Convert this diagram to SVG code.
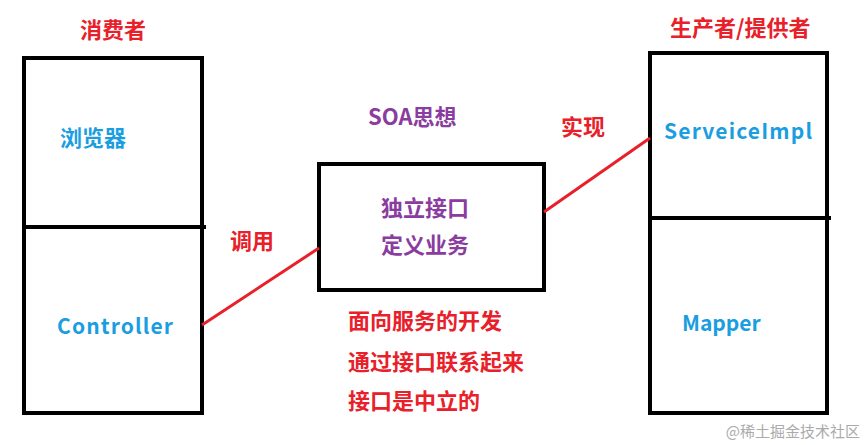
<svg xmlns="http://www.w3.org/2000/svg" width="866" height="445" viewBox="0 0 866 445">
<style>
.box{fill:none;stroke:#000;stroke-width:4}
.t{font-family:"Noto Sans CJK SC","Liberation Sans",sans-serif;font-weight:bold;font-size:22px}
.e{font-size:21px}
.red{fill:#e8202a}.blue{fill:#1a9ee0}.pur{fill:#8a3d9e}
.ln{stroke:#e8202a;stroke-width:3;fill:none}
</style>
<rect width="866" height="445" fill="#fff"/>
<text class="t red" x="80" y="38">消费者</text>
<text class="t red" x="670" y="36">生产者/提供者</text>
<g id="consumer">
<rect class="box" x="24" y="58" width="178" height="355"/>
<line x1="24" y1="227" x2="206" y2="227" stroke="#000" stroke-width="4"/>
<text class="t blue" x="60" y="146">浏览器</text>
<text class="t e blue" x="57" y="334" textLength="116">Controller</text>
</g>
<g id="soa">
<text class="t pur" x="368" y="125">SOA思想</text>
<rect class="box" x="319" y="164" width="225" height="126"/>
<text class="t pur" x="381" y="216">独立接口</text>
<text class="t pur" x="381" y="253">定义业务</text>
</g>
<g id="provider">
<rect class="box" x="650" y="53" width="177" height="360"/>
<line x1="650" y1="218" x2="831" y2="218" stroke="#000" stroke-width="4"/>
<text class="t e blue" x="664" y="139" textLength="148">ServeiceImpl</text>
<text class="t e blue" x="682" y="331">Mapper</text>
</g>
<g id="notes">
<text class="t red" x="348" y="329">面向服务的开发</text>
<text class="t red" x="348" y="370">通过接口联系起来</text>
<text class="t red" x="348" y="409">接口是中立的</text>
</g>
<g id="connectors">
<line class="ln" x1="202" y1="325" x2="319" y2="248"/>
<line class="ln" x1="544" y1="212" x2="650" y2="138"/>
<text class="t red" x="230" y="249">调用</text>
<text class="t red" x="561" y="135">实现</text>
</g>
<text x="860" y="437" text-anchor="end" font-family="Noto Sans CJK SC,sans-serif" font-size="15" fill="#aaa">@稀土掘金技术社区</text>
</svg>
